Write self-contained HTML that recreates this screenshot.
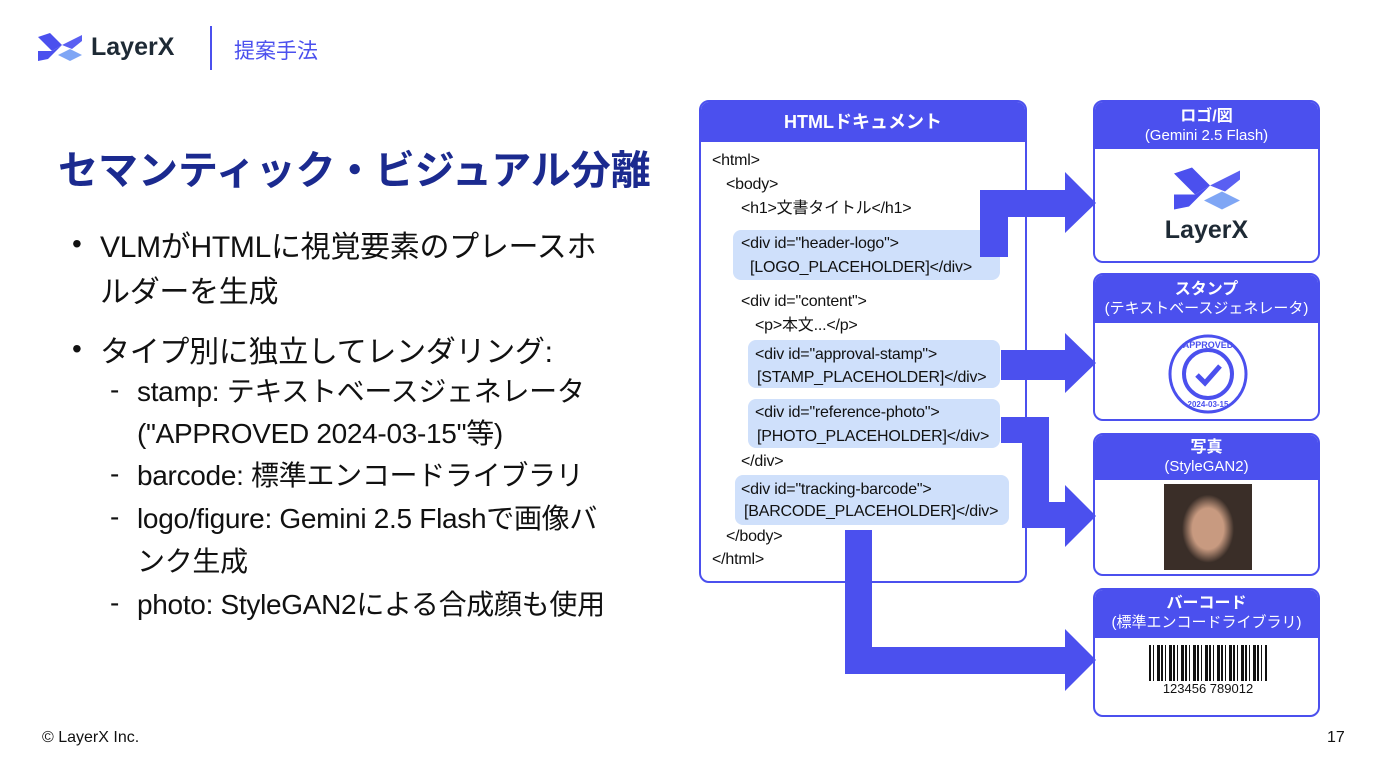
<!DOCTYPE html>
<html><head><meta charset="utf-8"><style>
*{margin:0;padding:0;box-sizing:border-box}
body{width:1376px;height:768px;background:#fff;position:relative;overflow:hidden;font-family:"Liberation Sans","Noto Sans CJK JP",sans-serif;color:#111}
.a{position:absolute;white-space:nowrap}
.code{font-size:16px;line-height:1;transform:translateY(-50%);letter-spacing:-0.2px}
.hl{position:absolute;background:#cfe0fb;border-radius:8px}
.box{position:absolute;border:2px solid #4b50ee;border-radius:10px;background:#fff;overflow:hidden}
.hd{background:#4b50ee;color:#fff;text-align:center;font-size:15px;line-height:19px}
.b{font-size:28px;transform:translateY(-50%);letter-spacing:-0.3px}
</style></head><body>
<!-- header -->
<svg class="a" style="left:36px;top:31px" width="48" height="34" viewBox="0 0 48 34">
<polygon points="2,6 14,2 26,14 16,20" fill="#4b50ee"/>
<polygon points="46,4 34,10 26,14 36,18 46,10" fill="#5a5ff2"/>
<polygon points="2,20 16,20 26,14 12,28 2,30" fill="#4b50ee"/>
<polygon points="22,24 34,18 46,24 34,30" fill="#7fa6f5"/>
</svg>
<div class="a" style="left:91px;top:33px;font-size:25px;font-weight:bold;color:#1e2a35">LayerX</div>
<div class="a" style="left:210px;top:26px;width:2px;height:44px;background:#4b50ee"></div>
<div class="a" style="left:234px;top:35px;font-size:21px;color:#4b50ee">提案手法</div>

<div class="a" style="left:58px;top:138px;font-size:40px;font-weight:bold;color:#1b2a8f">セマンティック・ビジュアル分離</div>

<div class="a b" style="left:72px;top:244px">•</div>
<div class="a b" style="left:100px;top:244px;font-size:30px">VLMがHTMLに視覚要素のプレースホ</div>
<div class="a b" style="left:100px;top:289px;font-size:30px">ルダーを生成</div>
<div class="a b" style="left:72px;top:349px">•</div>
<div class="a b" style="left:100px;top:349px;font-size:30px">タイプ別に独立してレンダリング:</div>
<div class="a b" style="left:110px;top:390px">-</div><div class="a b" style="left:137px;top:390px">stamp: テキストベースジェネレータ</div>
<div class="a b" style="left:137px;top:432px">("APPROVED 2024-03-15"等)</div>
<div class="a b" style="left:110px;top:474px">-</div><div class="a b" style="left:137px;top:474px">barcode: 標準エンコードライブラリ</div>
<div class="a b" style="left:110px;top:517px">-</div><div class="a b" style="left:137px;top:517px">logo/figure: Gemini 2.5 Flashで画像バ</div>
<div class="a b" style="left:137px;top:560px">ンク生成</div>
<div class="a b" style="left:110px;top:603px">-</div><div class="a b" style="left:137px;top:603px">photo: StyleGAN2による合成顔も使用</div>

<div class="a" style="left:42px;top:729px;font-size:16px">© LayerX Inc.</div>
<div class="a" style="left:1327px;top:729px;font-size:16px">17</div>

<!-- HTML doc box -->
<div class="box" style="left:699px;top:100px;width:328px;height:483px">
<div class="hd" style="height:40px;line-height:40px;font-size:18px;font-weight:bold">HTMLドキュメント</div>
</div>
<div class="hl" style="left:733px;top:230px;width:267px;height:50px"></div>
<div class="hl" style="left:748px;top:340px;width:252px;height:48px"></div>
<div class="hl" style="left:748px;top:399px;width:252px;height:49px"></div>
<div class="hl" style="left:735px;top:475px;width:274px;height:50px"></div>
<div class="a code" style="left:712px;top:161px">&lt;html&gt;</div>
<div class="a code" style="left:726px;top:185px">&lt;body&gt;</div>
<div class="a code" style="left:741px;top:209px">&lt;h1&gt;文書タイトル&lt;/h1&gt;</div>
<div class="a code" style="left:741px;top:244px">&lt;div id="header-logo"&gt;</div>
<div class="a code" style="left:750px;top:268px">[LOGO_PLACEHOLDER]&lt;/div&gt;</div>
<div class="a code" style="left:741px;top:302px">&lt;div id="content"&gt;</div>
<div class="a code" style="left:755px;top:326px">&lt;p&gt;本文...&lt;/p&gt;</div>
<div class="a code" style="left:755px;top:355px">&lt;div id="approval-stamp"&gt;</div>
<div class="a code" style="left:757px;top:378px">[STAMP_PLACEHOLDER]&lt;/div&gt;</div>
<div class="a code" style="left:755px;top:413px">&lt;div id="reference-photo"&gt;</div>
<div class="a code" style="left:757px;top:437px">[PHOTO_PLACEHOLDER]&lt;/div&gt;</div>
<div class="a code" style="left:741px;top:462px">&lt;/div&gt;</div>
<div class="a code" style="left:741px;top:490px">&lt;div id="tracking-barcode"&gt;</div>
<div class="a code" style="left:744px;top:512px">[BARCODE_PLACEHOLDER]&lt;/div&gt;</div>
<div class="a code" style="left:726px;top:537px">&lt;/body&gt;</div>
<div class="a code" style="left:712px;top:560px">&lt;/html&gt;</div>

<!-- right boxes -->
<div class="box" style="left:1093px;top:100px;width:227px;height:163px">
<div class="hd" style="height:47px;padding-top:5px"><b style="font-size:16px">ロゴ/図</b><br>(Gemini 2.5 Flash)</div>
<svg style="position:absolute;left:76px;top:62px" width="72" height="52" viewBox="0 0 48 34">
<polygon points="2,6 14,2 26,14 16,20" fill="#4b50ee"/>
<polygon points="46,4 34,10 26,14 36,18 46,10" fill="#5a5ff2"/>
<polygon points="2,20 16,20 26,14 12,28 2,30" fill="#4b50ee"/>
<polygon points="22,24 34,18 46,24 34,30" fill="#7fa6f5"/>
</svg>
<div style="position:absolute;left:0;width:100%;top:114px;text-align:center;font-size:25px;font-weight:bold;color:#1e2a35">LayerX</div>
</div>
<div class="box" style="left:1093px;top:273px;width:227px;height:148px">
<div class="hd" style="height:48px;padding-top:5px"><b style="font-size:16px">スタンプ</b><br>(テキストベースジェネレータ)</div>
<svg style="position:absolute;left:72px;top:58px" width="82" height="82" viewBox="0 0 82 82">
<circle cx="41" cy="41" r="38" fill="none" stroke="#4b50ee" stroke-width="3"/>
<circle cx="41" cy="41" r="24" fill="none" stroke="#4b50ee" stroke-width="4"/>
<polyline points="30,42 38,50 53,33" fill="none" stroke="#4b50ee" stroke-width="5"/>
<text x="41" y="15" font-size="9" font-weight="bold" fill="#4b50ee" text-anchor="middle" font-family="Liberation Sans">APPROVED</text>
<text x="41" y="74" font-size="8" font-weight="bold" fill="#4b50ee" text-anchor="middle" font-family="Liberation Sans">2024-03-15</text>
</svg>
</div>
<div class="box" style="left:1093px;top:433px;width:227px;height:143px">
<div class="hd" style="height:45px;padding-top:3px"><b style="font-size:16px">写真</b><br>(StyleGAN2)</div>
<div style="position:absolute;left:69px;top:49px;width:88px;height:86px;background:radial-gradient(ellipse 26px 34px at 50% 52%,#c89a80 60%,#3a2e28 100%),#6a6460"></div>
</div>
<div class="box" style="left:1093px;top:588px;width:227px;height:129px">
<div class="hd" style="height:48px;padding-top:4px"><b style="font-size:16px">バーコード</b><br>(標準エンコードライブラリ)</div>
<div style="position:absolute;left:54px;top:55px;width:118px;height:38px;background:repeating-linear-gradient(90deg,#111 0 2px,#fff 2px 4px,#111 4px 5px,#fff 5px 8px,#111 8px 11px,#fff 11px 12px)"></div>
<div style="position:absolute;left:54px;top:91px;width:118px;text-align:center;font-size:13px;background:#fff;line-height:16px">123456 789012</div>
</div>

<!-- arrows -->
<svg class="a" style="left:0;top:0" width="1376" height="768">
<g fill="#4b50ee">
<polygon points="980,257 1008,257 1008,217 1065,217 1065,233 1096,203 1065,172 1065,190 980,190"/>
<polygon points="1001,350 1065,350 1065,333 1096,363 1065,393 1065,380 1001,380"/>
<polygon points="1001,417 1049,417 1049,502 1065,502 1065,485 1096,516 1065,547 1065,528 1022,528 1022,443 1001,443"/>
<polygon points="845,530 872,530 872,647 1065,647 1065,629 1096,660 1065,691 1065,674 845,674"/>
</g>
</svg>
</body></html>
